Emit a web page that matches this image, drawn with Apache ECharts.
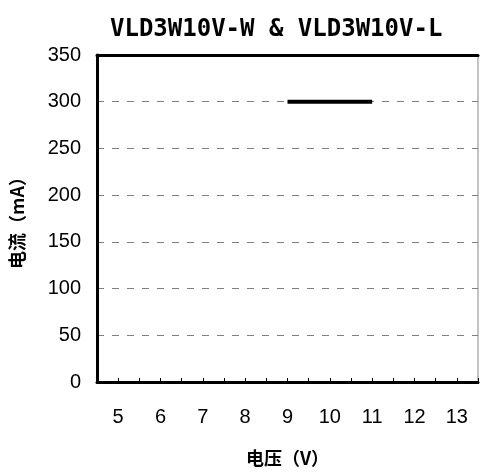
<!DOCTYPE html>
<html>
<head>
<meta charset="utf-8">
<script src="https://cdn.jsdelivr.net/npm/echarts@6/dist/echarts.min.js"></script>
<style>html,body{margin:0;padding:0;background:#fff;}#c{width:481px;height:472px;}</style>
</head>
<body>
<div id="c"></div>
<script>
var titleText = 'VLD3W10V-W & VLD3W10V-L';
var xName = '电压（V）';
var yName = '电流（mA）';
var voltage = [9, 11];
var current = [300, 300];
var xMin = 4.5, xMax = 13.5, xStep = 0.5;
var yMin = 0, yMax = 350, yStep = 50;

var chart = echarts.init(document.getElementById('c'));
var seriesData = voltage.map(function (v, i) { return [v, current[i]]; });
chart.setOption({
  animation: false,
  backgroundColor: '#fff',
  title: {
    text: titleText,
    left: 105,
    top: 13,
    textStyle: { fontFamily: 'DejaVu Sans Mono', fontWeight: 'bold', fontSize: 24, color: '#000' }
  },
  grid: { left: 97, right: 1.5, top: 55, bottom: 87.5, show: true, borderColor: '#888', borderWidth: 1, backgroundColor: 'transparent' },
  xAxis: [{
    type: 'value', min: xMin, max: xMax, interval: xStep,
    name: xName, nameLocation: 'middle', nameGap: 67,
    nameTextStyle: { fontFamily: 'Noto Sans CJK SC', fontWeight: 'bold', fontSize: 18, color: '#000' },
    axisLine: { show: true, onZero: false, lineStyle: { color: '#000', width: 3 } },
    axisTick: { show: true, inside: true, length: 4, lineStyle: { color: '#000', width: 1 } },
    axisLabel: {
      margin: 25, fontFamily: 'Liberation Sans', fontSize: 20, color: '#000',
      formatter: function (v) { return Math.abs(v - Math.round(v)) < 1e-6 && v > xMin && v < xMax ? String(Math.round(v)) : ''; }
    },
    splitLine: { show: false }
  }, {
    type: 'value', position: 'top', min: xMin, max: xMax,
    axisLine: { show: true, onZero: false, lineStyle: { color: '#000', width: 3 } },
    axisTick: { show: false }, axisLabel: { show: false }, splitLine: { show: false }
  }],
  yAxis: {
    type: 'value', min: yMin, max: yMax, interval: yStep,
    name: yName, nameLocation: 'middle', nameGap: 71, nameRotate: 90,
    nameTextStyle: { fontFamily: 'Noto Sans CJK SC', fontWeight: 'bold', fontSize: 18, color: '#000' },
    axisLine: { show: true, onZero: false, lineStyle: { color: '#000', width: 3 } },
    axisTick: { show: false },
    axisLabel: { margin: 16, fontFamily: 'Liberation Sans', fontSize: 20, color: '#000' },
    splitLine: { show: true, lineStyle: { color: '#808080', width: 1, type: [7, 8] } }
  },
  series: [{
    type: 'line', data: seriesData, showSymbol: false, symbol: 'none',
    lineStyle: { color: '#000', width: 4 }, z: 5
  }]
});
</script>
</body>
</html>
